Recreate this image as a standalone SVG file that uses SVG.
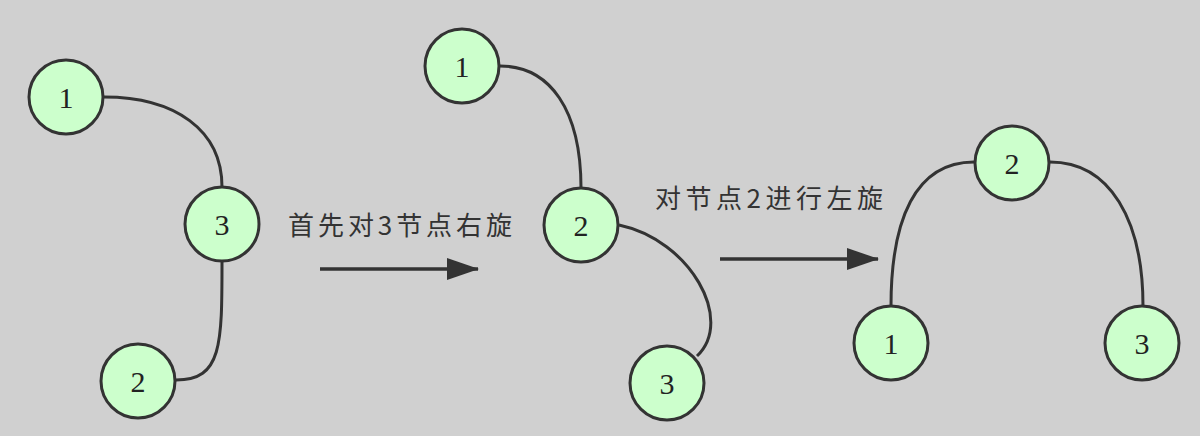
<svg xmlns="http://www.w3.org/2000/svg" width="1200" height="436" viewBox="0 0 1200 436">
  <defs>
    <marker id="arrow" viewBox="0 0 32 22" refX="31" refY="11" markerWidth="32" markerHeight="22" markerUnits="userSpaceOnUse" orient="auto">
      <path d="M0,0 L32,11 L0,22 Z" fill="#333"/>
    </marker>
  </defs>
  <style>
    .node circle { fill: #ccffcc; stroke: #333; stroke-width: 3; }
    .node text { font-family: "Liberation Serif", "DejaVu Serif", serif; font-size: 30px; fill: #222; text-anchor: middle; }
    .edge { fill: none; stroke: #333; stroke-width: 3; }
    .step { fill: none; stroke: #333; stroke-width: 3.5; }
    .label { font-family: "Noto Sans CJK SC", "Liberation Serif", sans-serif; font-size: 26px; fill: #333; }
  </style>
  <rect width="1200" height="436" fill="#d0d0d0"/>

  <g id="connectors">
    <path class="edge" d="M104,97 C175,97 222,130 222,187"/>
    <path class="edge" d="M222,261 C222,345 222,380 176,380"/>
    <path class="edge" d="M500,66 C550,66 581,110 581,188"/>
    <path class="edge" d="M619,225 C690,240 735,320 697,356"/>
    <path class="edge" d="M974,162 C915,162 891,220 891,306"/>
    <path class="edge" d="M1050,162 C1110,162 1143,220 1143,306"/>
    <line class="step" x1="320" y1="269" x2="478" y2="269" marker-end="url(#arrow)"/>
    <line class="step" x1="720" y1="259" x2="878" y2="259" marker-end="url(#arrow)"/>
  </g>

  <g id="label1"><text class="label" x="288" y="235" textLength="224" lengthAdjust="spacing">首先对3节点右旋</text></g>
  <g id="label2"><text class="label" x="655" y="208" textLength="228" lengthAdjust="spacing">对节点2进行左旋</text></g>

  <g id="a1" class="node"><circle cx="66" cy="97" r="37"/><text x="66" y="108">1</text></g>
  <g id="a3" class="node"><circle cx="222" cy="224" r="37"/><text x="222" y="235">3</text></g>
  <g id="a2" class="node"><circle cx="138" cy="381" r="37"/><text x="138" y="392">2</text></g>

  <g id="b1" class="node"><circle cx="462" cy="66" r="37"/><text x="462" y="77">1</text></g>
  <g id="b2" class="node"><circle cx="581" cy="225" r="37"/><text x="581" y="236">2</text></g>
  <g id="b3" class="node"><circle cx="667" cy="383" r="37"/><text x="667" y="394">3</text></g>

  <g id="c2" class="node"><circle cx="1012" cy="163" r="37"/><text x="1012" y="174">2</text></g>
  <g id="c1" class="node"><circle cx="891" cy="343" r="37"/><text x="891" y="354">1</text></g>
  <g id="c3" class="node"><circle cx="1142" cy="343" r="37"/><text x="1142" y="354">3</text></g>
</svg>
